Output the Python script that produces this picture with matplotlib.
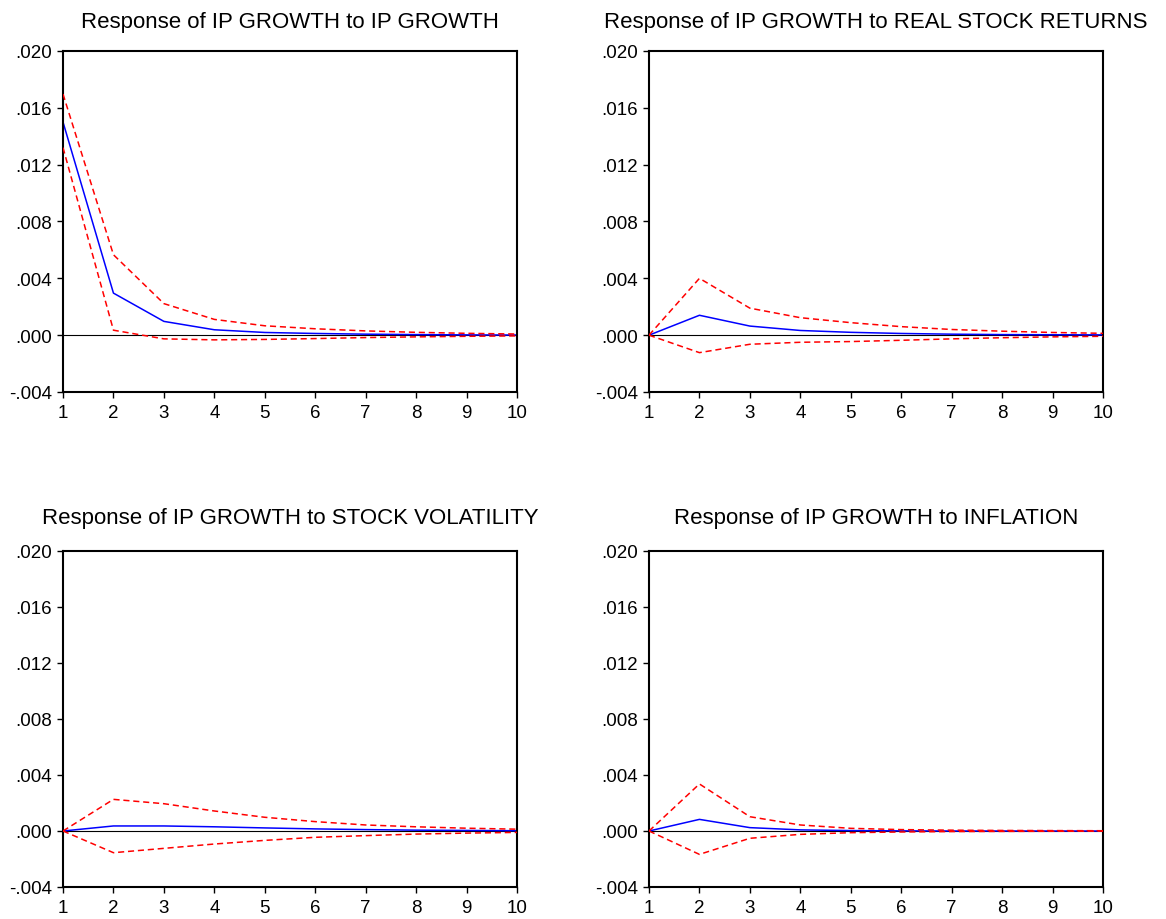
import matplotlib
matplotlib.use("Agg")
import matplotlib.pyplot as plt

plt.rcParams['font.family'] = ['Liberation Sans', 'DejaVu Sans']

periods = [1, 2, 3, 4, 5, 6, 7, 8, 9, 10]

titles = [
    "Response of IP GROWTH to IP GROWTH",
    "Response of IP GROWTH to REAL STOCK RETURNS",
    "Response of IP GROWTH to STOCK VOLATILITY",
    "Response of IP GROWTH to INFLATION",
]

ip_mean = [0.01500, 0.00296, 0.00097, 0.00038, 0.00019, 0.00012, 0.00007, 0.00004, 0.00002, 0.00001]
ip_upper = [0.01697, 0.00566, 0.00222, 0.00111, 0.00066, 0.00045, 0.00030, 0.00020, 0.00013, 0.00008]
ip_lower = [0.01320, 0.00035, -0.00026, -0.00033, -0.00030, -0.00024, -0.00017, -0.00012, -0.00008, -0.00005]

rs_mean = [0.0, 0.00140, 0.00064, 0.00033, 0.00020, 0.00012, 0.00007, 0.00004, 0.00003, 0.00002]
rs_upper = [0.0, 0.00400, 0.00190, 0.00123, 0.00088, 0.00060, 0.00040, 0.00028, 0.00019, 0.00013]
rs_lower = [0.0, -0.00123, -0.00064, -0.00050, -0.00045, -0.00036, -0.00026, -0.00018, -0.00012, -0.00008]

sv_mean = [0.0, 0.00036, 0.00036, 0.00030, 0.00022, 0.00015, 0.00010, 0.00006, 0.00004, 0.00002]
sv_upper = [0.0, 0.00226, 0.00195, 0.00143, 0.00098, 0.00067, 0.00043, 0.00030, 0.00020, 0.00013]
sv_lower = [0.0, -0.00155, -0.00124, -0.00093, -0.00067, -0.00045, -0.00033, -0.00022, -0.00015, -0.00010]

inf_mean = [0.0, 0.00083, 0.00024, 0.00008, 0.00003, 0.00001, 0.0, 0.0, 0.0, 0.0]
inf_upper = [0.0, 0.00336, 0.00102, 0.00043, 0.00019, 0.00010, 0.00006, 0.00004, 0.00003, 0.00002]
inf_lower = [0.0, -0.00167, -0.00052, -0.00024, -0.00012, -0.00007, -0.00004, -0.00003, -0.00002, -0.00001]

series = [
    (ip_mean, ip_upper, ip_lower),
    (rs_mean, rs_upper, rs_lower),
    (sv_mean, sv_upper, sv_lower),
    (inf_mean, inf_upper, inf_lower),
]

yticks = [-0.004, 0.000, 0.004, 0.008, 0.012, 0.016, 0.020]
ytick_labels = ["-.004", ".000", ".004", ".008", ".012", ".016", ".020"]

W, H = 1166, 920
fig = plt.figure(figsize=(W / 100, H / 100), dpi=100)

# axes boxes in pixels: left, top, right, bottom
boxes = [
    (63, 52, 517, 393),
    (649, 52, 1103, 393),
    (63, 552, 517, 888),
    (649, 552, 1103, 888),
]
title_pad = [17.5, 17.5, 20, 20]

for i, (box, title, (m, up, lo)) in enumerate(zip(boxes, titles, series)):
    l, t, r, b = box
    ax = fig.add_axes([l / W, 1 - b / H, (r - l) / W, (b - t) / H])
    ax.axhline(0, color='black', lw=0.8, zorder=1)
    ax.plot(periods, up, color='red', lw=1.1, linestyle=(0, (4, 2.5)), zorder=3)
    ax.plot(periods, lo, color='red', lw=1.1, linestyle=(0, (4, 2.5)), zorder=3)
    ax.plot(periods, m, color='blue', lw=1.1, zorder=2)
    ax.set_xlim(1, 10)
    ax.set_ylim(-0.004, 0.020)
    ax.set_xticks(periods)
    ax.set_xticklabels([str(p) for p in periods])
    ax.set_yticks(yticks)
    ax.set_yticklabels(ytick_labels)
    ax.tick_params(axis='both', direction='out', length=4, width=1, labelsize=13.5,
                   color='black', labelcolor='black')
    ax.tick_params(axis='x', pad=4.5)
    ax.tick_params(axis='y', pad=4)
    for sp in ax.spines.values():
        sp.set_linewidth(1.5)
        sp.set_color('black')
    ax.set_title(title, fontsize=16, pad=title_pad[i])

fig.savefig("out.png", dpi=100, facecolor='white')
